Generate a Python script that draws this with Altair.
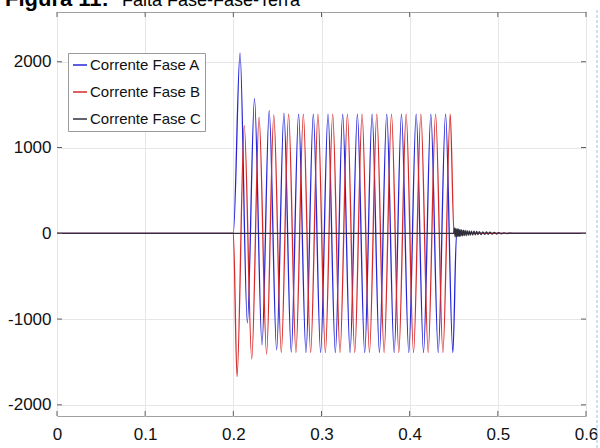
import altair as alt
import pandas as pd

# ---------------- data ----------------
x_ticks = [0, 0.1, 0.2, 0.3, 0.4, 0.5, 0.6]
y_ticks = [-2000, -1000, 0, 1000, 2000]
series_names = ["Corrente Fase A", "Corrente Fase B", "Corrente Fase C"]
series_colors = ["#2626d8", "#d82a2a", "#30303c"]
title_bold = "Figura 11:"
title_rest = "Falta Fase-Fase-Terra"

# Phase A: extrema (peaks / troughs) of the fault current
a_t = [0.0, 0.2,
       0.2076, 0.2159, 0.2240, 0.2325, 0.2407, 0.2491, 0.2574, 0.2657,
       0.2740, 0.2824, 0.2907, 0.2990, 0.3074, 0.3157, 0.3240, 0.3324,
       0.3407, 0.3490, 0.3574, 0.3657, 0.3740, 0.3824, 0.3907, 0.3990,
       0.4074, 0.4157, 0.4240, 0.4324, 0.4407, 0.4490,
       0.4532, 0.6]
a_v = [0, 0,
       2100, -1045, 1570, -1300, 1430, -1360, 1400, -1385,
       1390, -1390, 1390, -1390, 1390, -1390, 1390, -1390,
       1390, -1390, 1390, -1390, 1390, -1390, 1390, -1390,
       1390, -1390, 1390, -1390, 1390, -1390,
       0, 0]

# Phase B
b_t = [0.0, 0.2,
       0.2042, 0.2124, 0.2209, 0.2292, 0.2377, 0.2459, 0.2544, 0.2627,
       0.2710, 0.2794, 0.2877, 0.2960, 0.3044, 0.3127, 0.3210, 0.3294,
       0.3377, 0.3460, 0.3544, 0.3627, 0.3710, 0.3794, 0.3877, 0.3960,
       0.4044, 0.4127, 0.4210, 0.4294, 0.4377, 0.4460,
       0.4503, 0.6]
b_v = [0, 0,
       -1670, 1256, -1465, 1353, -1407, 1380, -1390, 1390,
       -1390, 1390, -1390, 1390, -1390, 1390, -1390, 1390,
       -1390, 1390, -1390, 1390, -1390, 1390, -1390, 1390,
       -1390, 1390, -1390, 1390, -1390, 1390,
       0, 0]

# Phase C: stays near zero, small ringing after the breaker opens
c_t = [0.0, 0.2, 0.4500,
       0.4508, 0.4516, 0.4524, 0.4532, 0.4540, 0.4548, 0.4556, 0.4564,
       0.4572, 0.4580, 0.4590, 0.4600, 0.4610, 0.4620, 0.4630, 0.4640,
       0.4652, 0.4664, 0.4676, 0.4688, 0.4700, 0.4715, 0.4730, 0.4745,
       0.4760, 0.4775, 0.4790, 0.4810, 0.4830, 0.4850, 0.4870, 0.4890,
       0.4910, 0.4935, 0.4960, 0.4985, 0.5010, 0.5040, 0.5070, 0.5100,
       0.5130, 0.5170, 0.5200, 0.6]
c_v = [0, 0, 0,
       62, -42, 58, -40, 52, -38, 48, -35,
       44, -33, 40, -30, 37, -28, 34, -26,
       31, -24, 28, -22, 26, -20, 24, -18,
       22, -16, 20, -14, 17, -12, 15, -11,
       13, -9, 11, -8, 9, -6, 6, -4,
       3, -2, 0, 0]

rows = []
for name, ts, vs in zip(series_names, [a_t, b_t, c_t], [a_v, b_v, c_v]):
    for t, v in zip(ts, vs):
        rows.append({"serie": name, "t": t, "corrente": v})
df = pd.DataFrame(rows)

W, H = 529, 404
FONT = "Liberation Sans"

xscale = alt.Scale(domain=[0, 0.6], nice=False, zero=False)
yscale = alt.Scale(domain=[-2130, 2580], nice=False, zero=False)

xaxis = alt.Axis(values=x_ticks, format="~g", grid=True, ticks=False,
                 tickSize=0, domain=False, labelFontSize=17,
                 labelPadding=10, title=None, labelFont=FONT,
                 labelColor="#111", gridColor="#e6e6e6", labelFlush=False)
yaxis = alt.Axis(values=y_ticks, format="d", grid=True, ticks=False,
                 tickSize=0, domain=False, labelFontSize=17,
                 labelPadding=6, title=None, labelFont=FONT,
                 labelColor="#111", gridColor="#e6e6e6",
                 labelExpr="replace(datum.label, '\u2212', '-')")

lines = alt.Chart(df).mark_line(
    interpolate="monotone", strokeWidth=1.3, clip=True
).encode(
    x=alt.X("t:Q", scale=xscale, axis=xaxis),
    y=alt.Y("corrente:Q", scale=yscale, axis=yaxis),
    color=alt.Color("serie:N",
                    scale=alt.Scale(domain=series_names, range=series_colors),
                    legend=alt.Legend(title=None, orient="none", legendX=11,
                                      legendY=41, symbolType="stroke",
                                      symbolSize=196, symbolStrokeWidth=1.5,
                                      labelFontSize=15, labelFont=FONT,
                                      labelColor="#111", labelOffset=2,
                                      rowPadding=11, padding=4,
                                      strokeColor="#9a9a9a", fillColor="white")),
)

xt = pd.DataFrame({"t": x_ticks})
yt = pd.DataFrame({"corrente": y_ticks})
tick_color = "#606060"
xt_bottom = alt.Chart(xt).mark_rule(color=tick_color).encode(
    x=alt.X("t:Q", scale=xscale, axis=xaxis), y=alt.value(H), y2=alt.value(H - 5))
xt_top = alt.Chart(xt).mark_rule(color=tick_color).encode(
    x=alt.X("t:Q", scale=xscale, axis=xaxis), y=alt.value(0), y2=alt.value(5))
yt_left = alt.Chart(yt).mark_rule(color=tick_color).encode(
    y=alt.Y("corrente:Q", scale=yscale, axis=yaxis), x=alt.value(0), x2=alt.value(5))
yt_right = alt.Chart(yt).mark_rule(color=tick_color).encode(
    y=alt.Y("corrente:Q", scale=yscale, axis=yaxis), x=alt.value(W), x2=alt.value(W - 5))

dash = alt.Chart(pd.DataFrame({"k": [0]})).mark_rule(
    color="#9cc4e4", strokeDash=[3, 2], strokeWidth=1
).encode(x=alt.value(540), y=alt.value(-2), y2=alt.value(H + 32))

t1 = alt.Chart(pd.DataFrame({"s": [title_bold]})).mark_text(
    align="left", baseline="alphabetic", font=FONT, fontSize=22,
    fontWeight="bold", color="black"
).encode(text="s:N", x=alt.value(-52), y=alt.value(-6))
t2 = alt.Chart(pd.DataFrame({"s": [title_rest]})).mark_text(
    align="left", baseline="alphabetic", font=FONT, fontSize=18,
    color="black"
).encode(text="s:N", x=alt.value(65), y=alt.value(-6))

chart = alt.layer(lines, xt_bottom, xt_top, yt_left, yt_right, dash, t1, t2).properties(
    width=W, height=H,
    autosize=alt.AutoSizeParams(type="none"),
    padding={"left": 57, "top": 12, "right": 14, "bottom": 32},
).configure_view(stroke="#a0a0a0", strokeWidth=1)

chart.save("out.html", embed_options={"renderer": "svg", "actions": False})
